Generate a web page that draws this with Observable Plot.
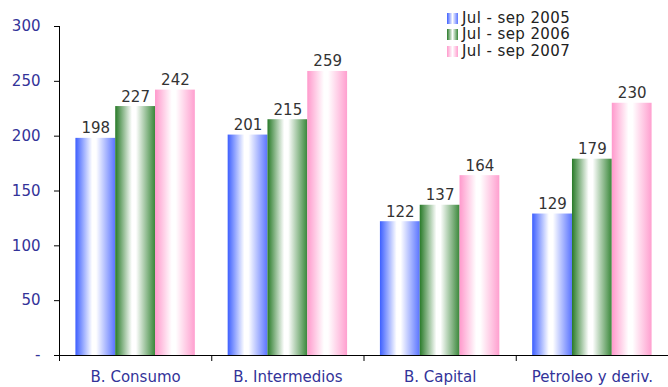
<!DOCTYPE html>
<html><head><meta charset="utf-8">
<script src="https://cdn.jsdelivr.net/npm/d3@7"></script>
<script src="https://cdn.jsdelivr.net/npm/@observablehq/plot@0.6"></script>
<style>
body{margin:0;background:#fff;font-family:"DejaVu Sans",sans-serif;}
#wrap{position:relative;width:668px;height:387px;}
#legend{position:absolute;left:447px;top:10px;font-size:15px;letter-spacing:0.4px;color:#222;line-height:17px;}
#legend .item{display:flex;align-items:center;white-space:nowrap;height:16.5px;}
#legend .sw{width:11px;height:11px;margin-right:4px;}
</style>
</head><body>
<div id="wrap"><div id="legend"></div></div>
<script>
const categories = ["B. Consumo", "B. Intermedios", "B. Capital", "Petroleo y deriv."];
const series = ["Jul - sep 2005", "Jul - sep 2006", "Jul - sep 2007"];
const values2005 = [198, 201, 122, 129];
const values2006 = [227, 215, 137, 179];
const values2007 = [242, 259, 164, 230];
const yTicks = [0, 50, 100, 150, 200, 250, 300];
const yTickLabels = ["-", "50", "100", "150", "200", "250", "300"];
const seriesColors = [["#3d5fff", "#5a74ff"], ["#287a28", "#3a873a"], ["#ff99cc", "#ff9fcf"]];

const seriesValues = [values2005, values2006, values2007];
const barW = 40 / 153;
const pad = (1 - 3 * barW) / 2;
const rows = [];
seriesValues.forEach((vals, si) => vals.forEach((v, gi) => {
  const x1 = gi + pad + si * barW;
  rows.push({cat: categories[gi], series: series[si], si, value: v, x1, x2: x1 + barW, xm: x1 + barW / 2});
}));

const marks = [];
series.forEach((s, si) => {
  marks.push(Plot.rectY(rows.filter(d => d.si === si), {x1: "x1", x2: "x2", y: "value", fill: `url(#grad${si})`}));
});
marks.push(
  Plot.text(rows, {x: "xm", y: "value", text: d => String(d.value), lineAnchor: "bottom", dy: -5, fill: "#333", fontSize: 15}),
  Plot.ruleX([0], {y1: 0, y2: 300, stroke: "black"}),
  Plot.ruleY([0], {stroke: "black"}),
  Plot.axisY({ticks: yTicks, tickFormat: d => yTickLabels[yTicks.indexOf(d)], tickSize: 5, tickPadding: 14, fill: "#333399", stroke: "black", fontSize: 15, label: null}),
  Plot.axisX({ticks: [0, 1, 2, 3, 4], tickFormat: () => "", tickSize: 6, stroke: "black", label: null}),
  Plot.axisX({ticks: categories.map((c, i) => i + 0.5), tickFormat: d => categories[Math.floor(d)], tickSize: 0, tickPadding: 16, fill: "#333399", fontSize: 15, label: null})
);

const chart = Plot.plot({
  width: 668, height: 387,
  marginLeft: 59, marginRight: 0, marginTop: 26, marginBottom: 32,
  x: {type: "linear", domain: [0, 4], label: null},
  y: {domain: [0, 300], label: null},
  style: {fontFamily: "DejaVu Sans", fontSize: "15px", background: "white"},
  marks
});

const svgns = "http://www.w3.org/2000/svg";
const defs = document.createElementNS(svgns, "defs");
seriesColors.forEach((c, i) => {
  const g = document.createElementNS(svgns, "linearGradient");
  g.setAttribute("id", "grad" + i);
  g.setAttribute("x1", "0"); g.setAttribute("x2", "1"); g.setAttribute("y1", "0"); g.setAttribute("y2", "0");
  [[0, c[0]], [0.42, "#ffffff"], [0.52, "#ffffff"], [1, c[1]]].forEach(([o, col]) => {
    const st = document.createElementNS(svgns, "stop");
    st.setAttribute("offset", o); st.setAttribute("stop-color", col);
    g.appendChild(st);
  });
  defs.appendChild(g);
});
chart.insertBefore(defs, chart.firstChild);
document.getElementById("wrap").insertBefore(chart, document.getElementById("legend"));

const legend = document.getElementById("legend");
series.forEach((s, i) => {
  const it = document.createElement("div"); it.className = "item";
  const sw = document.createElement("div"); sw.className = "sw";
  sw.style.background = `linear-gradient(to right, ${seriesColors[i][0]}, #fff, ${seriesColors[i][1]})`;
  const t = document.createElement("span"); t.textContent = s;
  it.appendChild(sw); it.appendChild(t); legend.appendChild(it);
});
</script>
</body></html>
